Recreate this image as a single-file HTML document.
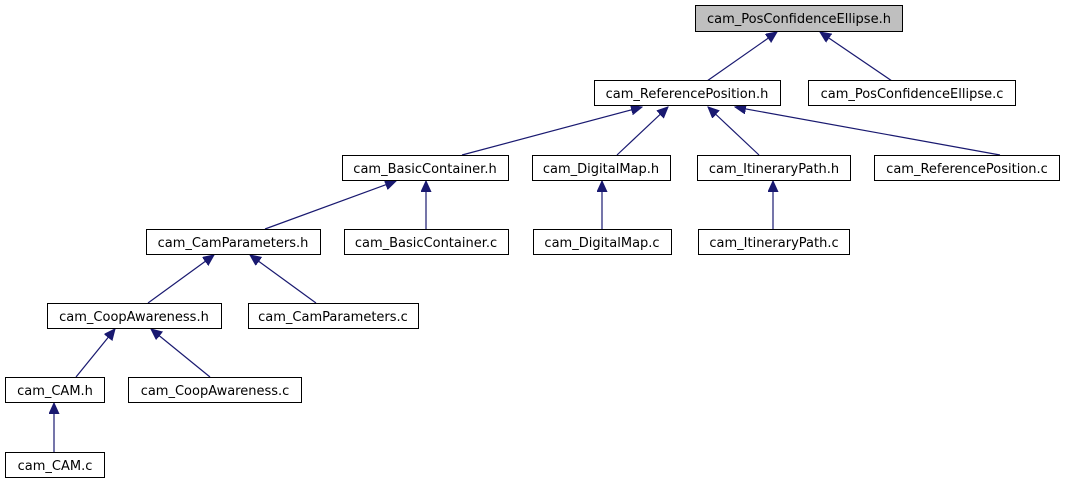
<!DOCTYPE html>
<html><head><meta charset="utf-8"><style>
html,body{margin:0;padding:0;background:#fff;}
svg{display:block}
text{font-family:"DejaVu Sans","Liberation Sans",sans-serif;font-size:13px;fill:#000;text-anchor:middle}
rect{fill:#fff;stroke:#000;stroke-width:1}
line{stroke:#191970;stroke-width:1.2}
</style></head><body>
<svg width="1065" height="485" viewBox="0 0 1065 485">
<defs><marker id="a" markerUnits="userSpaceOnUse" markerWidth="12" markerHeight="12" refX="11" refY="5" orient="auto"><polygon points="0,0 11,5 0,10" fill="#191970" stroke="#191970"/></marker></defs>
<g>
<line x1="707" y1="81" x2="777" y2="32" marker-end="url(#a)"/>
<line x1="892" y1="81" x2="820" y2="32" marker-end="url(#a)"/>
<line x1="462" y1="155" x2="642" y2="107" marker-end="url(#a)"/>
<line x1="617" y1="155" x2="668" y2="107" marker-end="url(#a)"/>
<line x1="759" y1="155" x2="708" y2="107" marker-end="url(#a)"/>
<line x1="1000" y1="155" x2="735" y2="107" marker-end="url(#a)"/>
<line x1="265" y1="229" x2="396" y2="181" marker-end="url(#a)"/>
<line x1="426" y1="229" x2="426" y2="181" marker-end="url(#a)"/>
<line x1="602" y1="229" x2="602" y2="181" marker-end="url(#a)"/>
<line x1="773" y1="229" x2="773" y2="181" marker-end="url(#a)"/>
<line x1="148" y1="303" x2="214" y2="255" marker-end="url(#a)"/>
<line x1="316" y1="303" x2="250" y2="255" marker-end="url(#a)"/>
<line x1="76" y1="377" x2="115" y2="329" marker-end="url(#a)"/>
<line x1="210" y1="377" x2="151" y2="329" marker-end="url(#a)"/>
<line x1="54" y1="452" x2="54" y2="403" marker-end="url(#a)"/>
</g>
<rect x="695.5" y="5.5" width="207" height="26" style="fill:#bfbfbf"/><text x="799" y="23">cam_PosConfidenceEllipse.h</text>
<rect x="594.5" y="80.5" width="186" height="25"/><text x="687" y="98">cam_ReferencePosition.h</text>
<rect x="808.5" y="80.5" width="207" height="25"/><text x="912" y="98">cam_PosConfidenceEllipse.c</text>
<rect x="342.5" y="155.5" width="166" height="25"/><text x="425" y="173">cam_BasicContainer.h</text>
<rect x="532.5" y="155.5" width="138" height="25"/><text x="601" y="173">cam_DigitalMap.h</text>
<rect x="697.5" y="155.5" width="153" height="25"/><text x="774" y="173">cam_ItineraryPath.h</text>
<rect x="874.5" y="155.5" width="185" height="25"/><text x="967" y="173">cam_ReferencePosition.c</text>
<rect x="146.5" y="229.5" width="174" height="25"/><text x="233" y="247">cam_CamParameters.h</text>
<rect x="344.5" y="229.5" width="164" height="25"/><text x="426" y="247">cam_BasicContainer.c</text>
<rect x="533.5" y="229.5" width="138" height="25"/><text x="602" y="247">cam_DigitalMap.c</text>
<rect x="698.5" y="229.5" width="151" height="25"/><text x="774" y="247">cam_ItineraryPath.c</text>
<rect x="47.5" y="303.5" width="174" height="25"/><text x="134" y="321">cam_CoopAwareness.h</text>
<rect x="248.5" y="303.5" width="170" height="25"/><text x="333" y="321">cam_CamParameters.c</text>
<rect x="5.5" y="377.5" width="99" height="25"/><text x="55" y="395">cam_CAM.h</text>
<rect x="128.5" y="377.5" width="173" height="25"/><text x="215" y="395">cam_CoopAwareness.c</text>
<rect x="5.5" y="452.5" width="99" height="25"/><text x="55" y="470">cam_CAM.c</text>
</svg>
</body></html>
